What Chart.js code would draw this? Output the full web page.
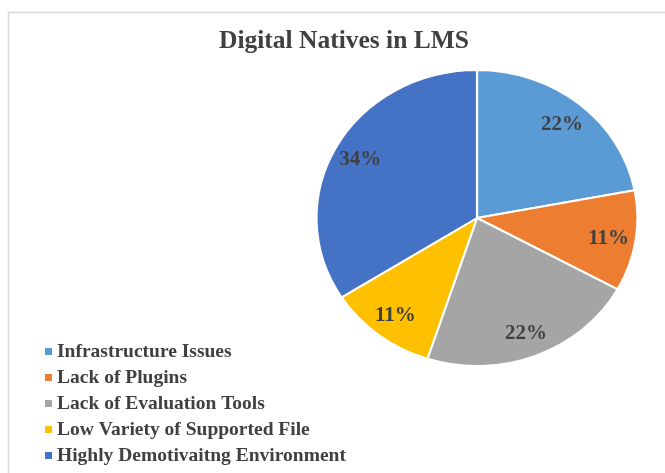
<!DOCTYPE html>
<html>
<head>
<meta charset="utf-8">
<script src="https://cdn.jsdelivr.net/npm/chart.js@4/dist/chart.umd.min.js"></script>
<style>
  body { margin: 0; background: #fff; }
  #wrap { width: 665px; height: 473px; position: relative; }
</style>
</head>
<body>
<div id="wrap"><canvas id="myChart"></canvas></div>
<script>
const categories = ['Infrastructure Issues', 'Lack of Plugins', 'Lack of Evaluation Tools',
  'Low Variety of Supported File', 'Highly Demotivaitng Environment'];
const values = [22, 11, 22, 11, 34];
const sliceColors = ['#5B9BD5', '#ED7D31', '#A5A5A5', '#FFC000', '#4472C4'];
const chartTitle = 'Digital Natives in LMS';

const serif = '"Liberation Serif", "Times New Roman", serif';
const textColor = '#404040';
const stretchX = 160.5 / 148; // the picture's pie is a little wider than tall

// stretch the pie sideways around its centre
const ellipse = {
  id: 'ellipse',
  beforeDatasetsDraw(chart) {
    const arc = chart.getDatasetMeta(0).data[0];
    const ctx = chart.ctx;
    ctx.save();
    ctx.translate(arc.x, 0);
    ctx.scale(stretchX, 1);
    ctx.translate(-arc.x, 0);
  },
  afterDatasetsDraw(chart) {
    chart.ctx.restore();
  }
};

// percent labels inside the slices
const sliceLabels = {
  id: 'sliceLabels',
  afterDatasetsDraw(chart) {
    const ctx = chart.ctx;
    const data = chart.data.datasets[0].data;
    ctx.save();
    ctx.font = `bold 21px ${serif}`;
    ctx.fillStyle = textColor;
    ctx.textAlign = 'center';
    ctx.textBaseline = 'middle';
    chart.getDatasetMeta(0).data.forEach((arc, i) => {
      const mid = (arc.startAngle + arc.endAngle) / 2;
      const r = arc.outerRadius * 0.83;
      ctx.fillText(`${data[i]}%`, arc.x + Math.cos(mid) * r * stretchX, arc.y + Math.sin(mid) * r + 1);
    });
    ctx.restore();
  }
};

// frame, title and the legend down on the left
const decor = {
  id: 'decor',
  afterDraw(chart) {
    const ctx = chart.ctx;
    ctx.save();
    ctx.strokeStyle = '#d9d9d9';
    ctx.lineWidth = 1.5;
    ctx.strokeRect(8.5, 12.5, 700, 500);

    ctx.fillStyle = textColor;
    ctx.font = `bold 25.5px ${serif}`;
    ctx.textAlign = 'center';
    ctx.textBaseline = 'alphabetic';
    ctx.fillText(chartTitle, 344, 48);

    ctx.font = `bold 19.5px ${serif}`;
    ctx.textAlign = 'left';
    categories.forEach((name, i) => {
      const y = 357 + i * 26;
      ctx.fillStyle = sliceColors[i];
      ctx.fillRect(45, y - 9, 7, 7);
      ctx.fillStyle = textColor;
      ctx.fillText(name, 57, y);
    });
    ctx.restore();
  }
};

const ctx = document.getElementById('myChart');

const mychart = new Chart(ctx, {
  type: 'pie',
  data: {
    labels: categories,
    datasets: [{
      data: values,
      backgroundColor: sliceColors,
      borderColor: '#ffffff',
      borderWidth: 2
    }]
  },
  options: {
    responsive: true,
    maintainAspectRatio: false,
    animation: false,
    layout: {
      padding: {left: 328, right: 39, top: 69, bottom: 106}
    },
    plugins: {
      legend: {display: false},
      title: {display: false},
      tooltip: {enabled: false}
    }
  },
  plugins: [ellipse, sliceLabels, decor]
});
</script>
</body>
</html>
